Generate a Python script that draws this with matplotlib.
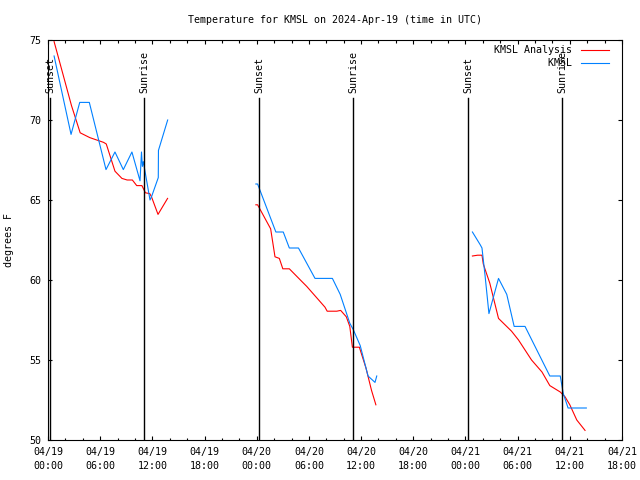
import numpy as np
import matplotlib
matplotlib.use('Agg')
import matplotlib.pyplot as plt
import matplotlib.dates as mdates
import matplotlib.transforms as mtransforms

# hours after 2024-04-19 00:00 UTC, NaN breaks the line between days
start = mdates.datestr2num('2024-04-19 00:00')

analysis_hours = [0.7, 1.7, 2.7, 3.7, 4.8, 6.4, 6.7, 7.7, 8.5, 9.1, 9.7, 10.2, 10.8, 11.2,
                  11.7, 11.9, 12.65, 13.75, np.nan,
                  23.9, 24.1, 25.6, 26.1, 26.6, 27.0, 27.75, 29.2, 29.75, 31.85, 32.1,
                  33.2, 33.65, 34.3, 34.7, 35.0, 35.8, 36.56, 37.2, 37.7, np.nan,
                  48.8, 49.4, 49.9, 50.05, 50.8, 51.8, 53.3, 54.1, 55.6, 56.8, 57.7,
                  58.9, 59.45, 60.0, 60.8, 61.75]
analysis_temp = [74.9, 72.9, 70.9, 69.2, 68.9, 68.6, 68.5, 66.8, 66.35, 66.25, 66.25, 65.9, 65.9, 65.45,
                 65.4, 65.2, 64.1, 65.1, np.nan,
                 64.7, 64.7, 63.2, 61.45, 61.35, 60.7, 60.7, 59.9, 59.6, 58.3, 58.05,
                 58.05, 58.1, 57.7, 57.1, 55.8, 55.8, 54.5, 53.1, 52.2, np.nan,
                 61.5, 61.55, 61.55, 61.0, 59.8, 57.6, 56.8, 56.25, 55.0, 54.25, 53.4,
                 53.0, 52.7, 52.2, 51.25, 50.6]

obs_hours = [0.7, 2.65, 3.65, 4.75, 6.67, 7.7, 8.66, 9.65, 10.58, 10.75, 10.85, 10.96,
             11.73, 11.9, 12.68, 12.7, 13.76, np.nan,
             23.9, 24.1, 26.2, 27.05, 27.75, 28.8, 30.7, 32.7, 33.6, 34.7, 35.1, 35.9,
             36.8, 37.6, 37.8, np.nan,
             48.8, 49.7, 49.9, 50.25, 50.7, 50.85, 51.8, 52.75, 53.6, 54.85, 57.7, 58.9,
             59.25, 59.8, 61.9]
obs_temp = [74.0, 69.1, 71.1, 71.1, 66.9, 68.0, 66.9, 68.0, 66.2, 68.0, 67.1, 67.4,
            65.0, 65.2, 66.4, 68.1, 70.0, np.nan,
            66.0, 66.0, 63.0, 63.0, 62.0, 62.0, 60.1, 60.1, 59.1, 57.3, 56.9, 55.9,
            54.0, 53.6, 54.0, np.nan,
            63.0, 62.2, 62.0, 60.3, 57.9, 58.2, 60.1, 59.1, 57.1, 57.1, 54.0, 54.0,
            52.9, 52.0, 52.0]

sun_hours = [0.23, 11.04, 24.26, 35.07, 48.29, 59.1]
sun_labels = ['Sunset', 'Sunrise', 'Sunset', 'Sunrise', 'Sunset', 'Sunrise']

tick_hours = list(range(0, 67, 6))

plt.rcParams['font.family'] = 'DejaVu Sans Mono'
plt.rcParams['font.size'] = 7.2

fig = plt.figure(figsize=(6.4, 4.8), dpi=100)
ax = fig.add_axes([48 / 640, 40 / 480, 574 / 640, 400 / 480])

ax.plot(start + np.array(analysis_hours) / 24, analysis_temp, color='#ff0000', lw=0.8,
        label='KMSL Analysis')
ax.plot(start + np.array(obs_hours) / 24, obs_temp, color='#0080ff', lw=0.8,
        label='KMSL'.rjust(13))

trans = mtransforms.blended_transform_factory(ax.transData, ax.transAxes)
for h, lab in zip(sun_hours, sun_labels):
    ax.axvline(start + h / 24, ymin=0, ymax=0.855, color='black', lw=1.0)
    ax.text(start + h / 24, 0.8675, lab, rotation=90, ha='center', va='bottom',
            transform=trans)

ax.set_xlim(start, start + 66 / 24)
ax.set_ylim(50, 75)
ax.set_yticks([50, 55, 60, 65, 70, 75])

tick_pos = [start + h / 24 for h in tick_hours]
tick_lab = [mdates.num2date(t).strftime('%m/%d\n%H:%M') for t in tick_pos]
ax.set_xticks(tick_pos, tick_lab)
ax.set_xticks([start + h / 24 for h in range(0, 67, 2)], minor=True)
plt.setp(ax.get_xticklabels(), linespacing=1.55)

ax.tick_params(which='both', direction='in', top=True, right=True, width=0.8)
ax.tick_params(which='major', length=3, pad=5)
ax.tick_params(which='minor', length=1.8)
for s in ax.spines.values():
    s.set_linewidth(0.8)

ax.set_ylabel('degrees F')
ax.yaxis.set_label_coords(-34 / 574, 0.5)

fig.text(335 / 640, 1 - 20 / 480, 'Temperature for KMSL on 2024-Apr-19 (time in UTC)',
         ha='center', va='center')

ax.legend(loc='upper right', frameon=False, markerfirst=False, handlelength=2.8,
          borderaxespad=0.15, labelspacing=0.3, handletextpad=0.9,
          bbox_to_anchor=(1 - 8 / 574, 1))

fig.savefig('out.png', dpi=100)
